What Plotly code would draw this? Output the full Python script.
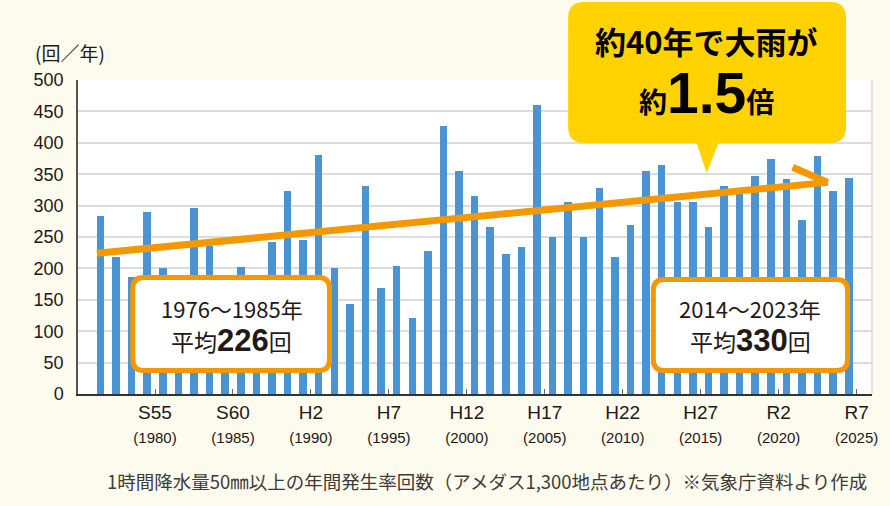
import plotly.graph_objects as go

# ---------------- data ----------------
years = list(range(1976, 2025))
counts = [284, 218, 187, 290, 201, 175, 296, 236, 170, 203,
          180, 242, 324, 246, 381, 201, 144, 331, 169, 204,
          121, 228, 427, 355, 315, 266, 223, 234, 460, 250,
          306, 250, 328, 218, 269, 355, 365, 306, 306, 266,
          331, 328, 347, 374, 342, 277, 379, 323, 344]

tick_positions = [1979.5, 1984.5, 1989.5, 1994.5, 1999.5, 2004.5, 2009.5, 2014.5, 2019.5, 2024.5]
era_labels = ["S55", "S60", "H2", "H7", "H12", "H17", "H22", "H27", "R2", "R7"]
western_labels = ["(1980)", "(1985)", "(1990)", "(1995)", "(2000)", "(2005)", "(2010)", "(2015)", "(2020)", "(2025)"]

y_ticks = [0, 50, 100, 150, 200, 250, 300, 350, 400, 450, 500]

# trend arrow (years, counts) : main shaft then half arrow head
trend_x = [1975.77, 2022.65, None, 2020.4, 2022.65]
trend_y = [224, 337, None, 361, 337]

# ---------------- layout helpers ----------------
W, H = 890, 506
L, R, T, B = 78, 15, 80, 112
pw = W - L - R
ph = H - T - B

BLUE = "#4A94D4"
ORANGE = "#F39800"
YELLOW = "#FFD200"
BG = "#FDFAEE"
TXT = "#231815"


def fx(px):
    return (px - L) / pw


def fy(py):
    return (H - B - py) / ph


def rrect_path(x0, y0, x1, y1, r, tri=None):
    rx, ry = r / pw, r / ph
    X0, X1, Y0, Y1 = fx(x0), fx(x1), fy(y0), fy(y1)
    p = f"M {X0+rx},{Y0} L {X1-rx},{Y0} Q {X1},{Y0} {X1},{Y0-ry} L {X1},{Y1+ry} Q {X1},{Y1} {X1-rx},{Y1} "
    if tri:
        (tl, tr, tx, ty) = tri
        p += f"L {fx(tr)},{Y1} L {fx(tx)},{fy(ty)} L {fx(tl)},{Y1} "
    p += f"L {X0+rx},{Y1} Q {X0},{Y1} {X0},{Y1+ry} L {X0},{Y0-ry} Q {X0},{Y0} {X0+rx},{Y0} Z"
    return p


fig = go.Figure()

fig.add_trace(go.Bar(
    x=years, y=counts, width=0.48,
    marker=dict(color=BLUE, line=dict(width=0)),
    hoverinfo="x+y",
))

fig.add_trace(go.Scatter(
    x=trend_x, y=trend_y, mode="lines",
    line=dict(color=ORANGE, width=7),
    hoverinfo="skip",
))

tick_text = [f"{e}<br><span style='font-size:15px'>{w}</span>" for e, w in zip(era_labels, western_labels)]

fig.update_layout(
    width=W, height=H,
    margin=dict(l=L, r=R, t=T, b=B, pad=0),
    paper_bgcolor=BG,
    plot_bgcolor="white",
    showlegend=False,
    bargap=0,
    font=dict(family="Liberation Sans, Arial, sans-serif", color=TXT),
    xaxis=dict(
        range=[1974.56, 2025.49],
        tickmode="array", tickvals=tick_positions, ticktext=tick_text,
        ticks="inside", ticklen=5, tickwidth=1.2, tickcolor="#666",
        showgrid=False, zeroline=False,
        showline=True, linecolor="#333", linewidth=1.5,
        tickfont=dict(size=19, color=TXT),
        fixedrange=True,
    ),
    yaxis=dict(
        range=[0, 500],
        tickmode="array", tickvals=y_ticks,
        showgrid=True, gridcolor="#DCDCDC", gridwidth=1.6,
        zeroline=False,
        showline=True, linecolor="#555", linewidth=1.5,
        ticks="", ticklabelstandoff=9,
        tickfont=dict(size=18, color=TXT),
        fixedrange=True,
    ),
)

shapes = []
# right border of plot area
shapes.append(dict(type="line", xref="paper", yref="paper", x0=1, x1=1, y0=0, y1=1,
                   line=dict(color="#DCDCDC", width=1.6), layer="below"))
# yellow callout
shapes.append(dict(type="path", xref="paper", yref="paper",
                   path=rrect_path(570, 2, 849, 143, 16, tri=(699, 721, 709, 173)),
                   fillcolor=YELLOW, line=dict(width=0), layer="above"))
# average boxes
shapes.append(dict(type="path", xref="paper", yref="paper",
                   path=rrect_path(133, 277.5, 330.5, 370.5, 11),
                   fillcolor="white", line=dict(color=ORANGE, width=5), layer="above"))
shapes.append(dict(type="path", xref="paper", yref="paper",
                   path=rrect_path(655.5, 279.5, 850.5, 370.5, 11),
                   fillcolor="white", line=dict(color=ORANGE, width=5), layer="above"))
fig.update_layout(shapes=shapes)

JP = "Noto Sans CJK JP"
ann = []


def add_text(text, px, py, size, bold=False, color=TXT, family=JP, xanchor="center", yanchor="middle", pad=1):
    ann.append(dict(text=text, x=fx(px), y=fy(py), xref="paper", yref="paper",
                    xanchor=xanchor, yanchor=yanchor, showarrow=False, borderpad=pad,
                    font=dict(family=family, size=size, color=color,
                              weight=700 if bold else 400)))


# unit label
add_text("(回／年)", 70, 52, 19)
# box 1
add_text("1976～1985年", 232.5, 308, 22)
add_text("平均<span style='font-family:Liberation Sans;font-size:31px;font-weight:bold'>226</span>回", 232.5, 340, 23)
# box 2
add_text("2014～2023年", 752.5, 308, 22)
add_text("平均<span style='font-family:Liberation Sans;font-size:31px;font-weight:bold'>330</span>回", 753, 340, 23)
# callout
add_text("約40年で大雨が", 708.5, 41, 31, bold=True, color="#000", pad=0)
add_text("約<span style='font-family:Liberation Sans;font-size:57px;font-weight:900'>1.5</span>倍", 709, 93, 28, bold=True, color="#000", pad=0)
# footer
add_text("1時間降水量50㎜以上の年間発生率回数（アメダス1,300地点あたり）※気象庁資料より作成", 488.5, 481, 18.5, color="#3E3A39")

fig.update_layout(annotations=ann)

fig.write_html("out.html", config={"displayModeBar": False},
               post_script="document.body.style.margin='0px';")
